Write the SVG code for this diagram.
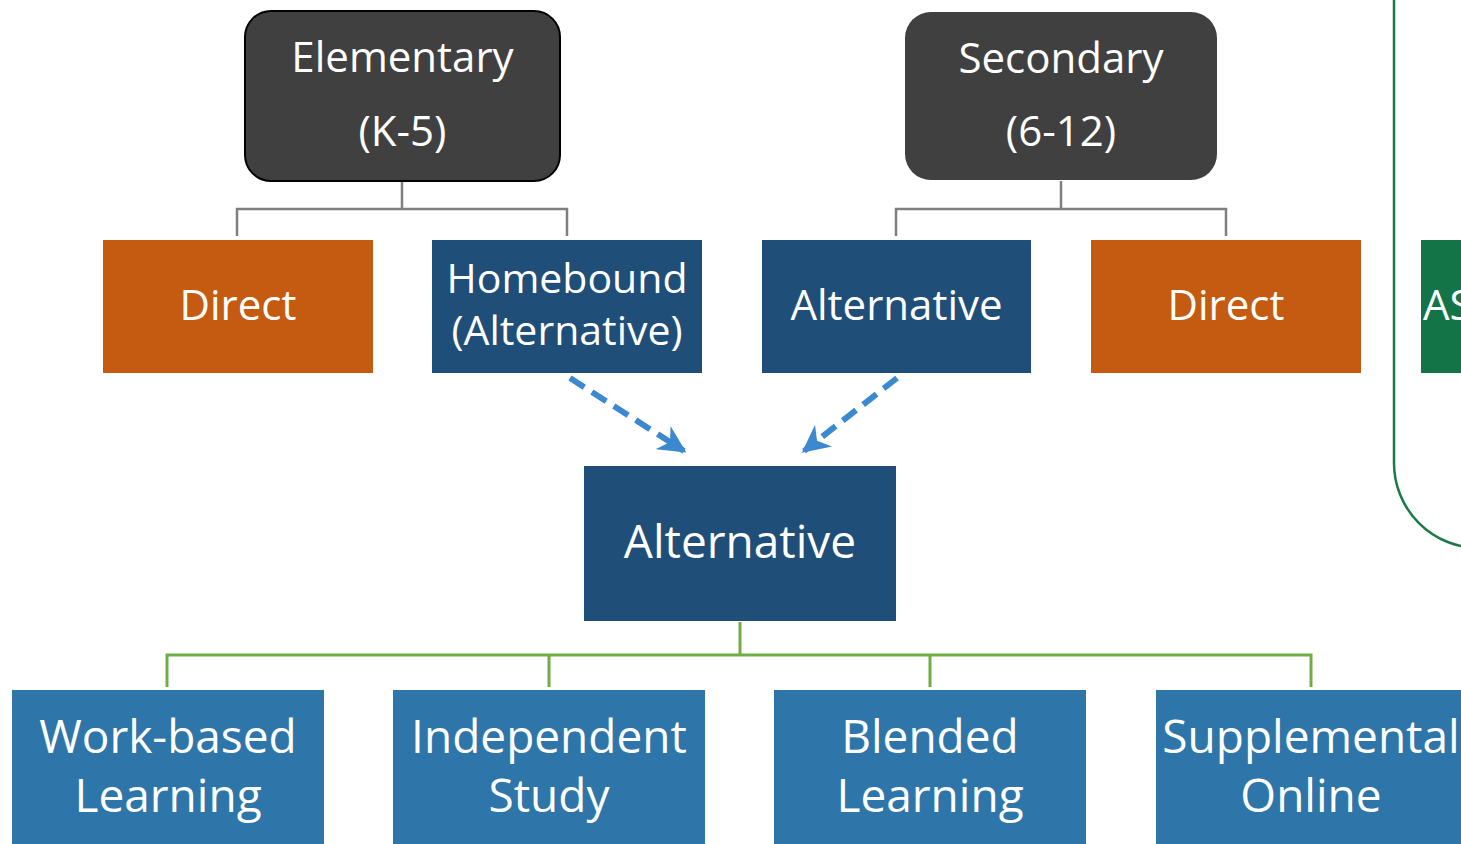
<svg xmlns="http://www.w3.org/2000/svg" width="1461" height="844" viewBox="0 0 1461 844">
<defs>
<style>
.t{font-family:"Open Sans","Noto Sans",sans-serif;fill:#fff;text-anchor:middle}
.s41{font-size:41px}
.s42{font-size:42px}
.s46{font-size:46px}
.gray{stroke:#7f7f7f;stroke-width:2.5;fill:none}
.green{stroke:#70ad47;stroke-width:3;fill:none}
.dash{stroke:#3d89d0;stroke-width:6;stroke-dasharray:17 9;fill:none}
</style>
<marker id="ah" viewBox="0 0 10 10" refX="9" refY="5" markerWidth="4.6" markerHeight="4.6" markerUnits="strokeWidth" orient="auto">
<path d="M0,0 L10,5 L0,10 L3,5 Z" fill="#3d89d0"/>
</marker>
</defs>
<rect width="1461" height="844" fill="#fff"/>
<g id="connectors">
<path class="gray" d="M402,181 V209 M237,236 V209 H567 V236"/>
<path class="gray" d="M1061,181 V209 M896,236 V209 H1226 V236"/>
<path class="dash" d="M570,378 L684,451" marker-end="url(#ah)"/>
<path class="dash" d="M897,378 L804,451" marker-end="url(#ah)"/>
<path class="green" d="M740,622 V655 M167,687 V655 H1311 V687 M549,655 V687 M930,655 V687"/>
</g>
<g id="group-assp">
<rect x="1394" y="-150" width="220" height="698" rx="85" fill="none" stroke="#1b7a45" stroke-width="2.5"/>
</g>
<g id="elementary">
<rect x="245" y="11" width="315" height="170" rx="26" fill="#404040" stroke="#000" stroke-width="2"/>
<text class="t s42" x="402.5" y="72">Elementary</text>
<text class="t s42" x="402.5" y="146">(K-5)</text>
</g>
<g id="secondary">
<rect x="905" y="12" width="312" height="168" rx="26" fill="#404040"/>
<text class="t s42" x="1061" y="73">Secondary</text>
<text class="t s42" x="1061" y="146">(6-12)</text>
</g>
<g id="direct-elem">
<rect x="103" y="240" width="270" height="133" fill="#c55a11"/>
<text class="t s42" x="238" y="320">Direct</text>
</g>
<g id="homebound">
<rect x="432" y="240" width="270" height="133" fill="#1f4e79"/>
<text class="t s41" x="567" y="293">Homebound</text>
<text class="t s41" x="567" y="345">(Alternative)</text>
</g>
<g id="alternative-sec">
<rect x="762" y="240" width="269" height="133" fill="#1f4e79"/>
<text class="t s42" x="896.5" y="320">Alternative</text>
</g>
<g id="direct-sec">
<rect x="1091" y="240" width="270" height="133" fill="#c55a11"/>
<text class="t s42" x="1226" y="320">Direct</text>
</g>
<g id="assp">
<rect x="1421" y="240" width="60" height="133" fill="#137547"/>
<text class="t s42" x="1423" y="320" style="text-anchor:start">AS</text>
</g>
<g id="alternative">
<rect x="584" y="466" width="312" height="155" fill="#1f4e79"/>
<text class="t s46" x="740" y="558">Alternative</text>
</g>
<g id="work-based">
<rect x="12" y="690" width="312" height="160" fill="#2e76a9"/>
<text class="t s46" x="168" y="753">Work-based</text>
<text class="t s46" x="168" y="812">Learning</text>
</g>
<g id="independent">
<rect x="393" y="690" width="312" height="160" fill="#2e76a9"/>
<text class="t s46" x="549" y="753">Independent</text>
<text class="t s46" x="549" y="812">Study</text>
</g>
<g id="blended">
<rect x="774" y="690" width="312" height="160" fill="#2e76a9"/>
<text class="t s46" x="930" y="753">Blended</text>
<text class="t s46" x="930" y="812">Learning</text>
</g>
<g id="supplemental">
<rect x="1156" y="690" width="320" height="160" fill="#2e76a9"/>
<text class="t s46" x="1311" y="753">Supplemental</text>
<text class="t s46" x="1311" y="812">Online</text>
</g>
</svg>
